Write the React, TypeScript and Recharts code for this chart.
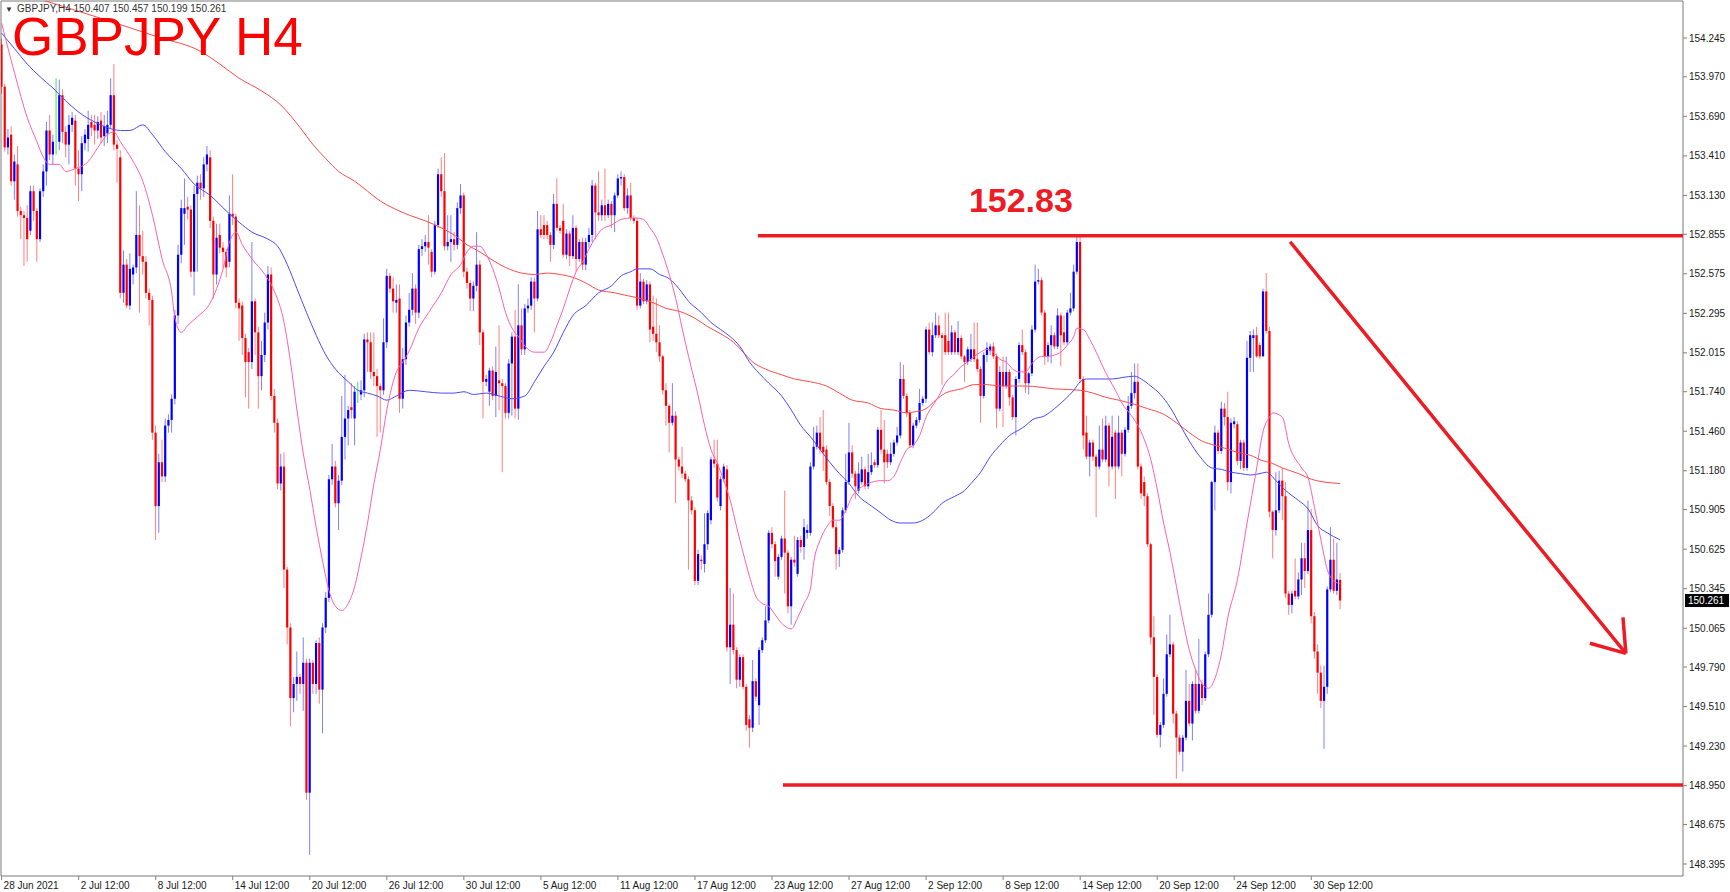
import React from 'react';
import {
  Bar,
  ComposedChart,
  Line,
  ReferenceArea,
  ReferenceLine,
  XAxis,
  YAxis,
} from 'recharts';

// candles as [open, high, low, close], H4 bars from 28 Jun 12:00
const julyBars: number[][] = [
  [154.20,154.24,153.85,153.90],[153.90,153.92,153.44,153.47],[153.47,153.60,153.42,153.54],[153.56,153.62,153.20,153.23],
  [153.23,153.42,153.10,153.37],[153.35,153.48,152.98,153.02],[153.02,153.05,152.82,152.99],[152.99,153.02,152.63,152.97],
  [152.97,153.06,152.66,152.82],[152.88,153.20,152.85,153.16],[153.16,153.20,152.95,153.02],[153.02,153.04,152.66,152.82],
  [152.82,153.18,152.80,153.16],[153.16,153.35,153.12,153.30],[153.30,153.65,153.20,153.59],[153.59,153.70,153.38,153.42],
  [153.42,153.56,153.35,153.51],[153.51,153.96,153.42,153.51],[153.51,153.95,153.45,153.84],[153.84,153.88,153.50,153.58],
  [153.58,153.62,153.40,153.49],[153.49,153.70,153.35,153.63],[153.63,153.72,153.58,153.68],[153.66,153.70,153.20,153.32],
  [153.32,153.45,153.09,153.28],[153.28,153.55,153.16,153.50],[153.50,153.60,153.45,153.56],[153.53,153.73,153.44,153.63],
  [153.65,153.70,153.55,153.61],[153.63,153.70,153.49,153.59],[153.59,153.69,153.53,153.65],[153.66,153.72,153.50,153.54],
  [153.55,153.70,153.48,153.62],[153.57,153.73,153.50,153.63],[153.63,153.96,153.60,153.84],[153.84,154.06,153.45,153.49],
  [153.49,153.52,153.22,153.46],[153.40,153.45,152.40,152.44],[152.44,152.74,152.37,152.64],[152.64,152.68,152.33,152.35],
  [152.35,152.72,152.32,152.61],[152.57,152.64,152.50,152.62],[152.62,153.16,152.58,152.85],[152.85,153.06,152.30,152.70],
  [152.70,152.88,152.57,152.66],[152.66,152.70,152.40,152.44],[152.44,152.47,152.21,152.39],[152.39,152.42,151.40,151.45],
  [151.45,151.50,150.69,150.93],[150.93,151.30,150.74,151.24],[151.24,151.40,151.10,151.14],[151.14,151.55,151.10,151.50],
  [151.50,151.58,151.45,151.54],[151.54,151.72,151.45,151.69],[151.69,152.32,151.65,152.28],[152.28,152.78,152.22,152.71],
  [152.71,153.10,152.65,153.04],[153.00,153.25,152.78,153.04],[153.05,153.12,152.96,153.03],[153.03,153.06,152.55,152.59],
  [152.59,153.20,152.42,153.14],[153.14,153.27,152.59,153.22],[153.22,153.28,153.10,153.18],[153.18,153.40,153.12,153.35],
  [153.35,153.48,153.30,153.42],[153.40,153.45,152.90,152.95],[152.95,152.98,152.40,152.57],[152.57,152.93,152.50,152.83],
  [152.85,152.93,152.72,152.76],[152.76,152.80,152.62,152.73],[152.73,152.75,152.55,152.62],[152.66,153.13,152.62,153.00],
  [153.00,153.28,152.92,152.98],[152.98,153.00,152.33,152.37],[152.37,152.40,152.10,152.33],[152.35,152.38,152.00,152.12],
  [152.12,152.15,151.70,151.95],[152.02,152.05,151.62,151.95],[151.95,152.80,151.90,152.38],[152.38,152.40,152.00,152.16],
  [152.16,152.20,151.62,151.85],[151.85,152.10,151.75,152.00],[152.00,152.30,151.95,152.23],[152.23,152.63,152.18,152.57],
  [152.57,152.62,151.68,151.71],[151.71,151.76,151.45,151.52],[151.52,151.55,151.05,151.09],[151.09,151.30,151.04,151.21],
  [151.21,151.31,150.35,150.48],[150.48,150.50,149.95,150.07],[150.07,150.10,149.37,149.57],[149.57,149.72,149.47,149.67],
  [149.67,149.90,149.55,149.72],[149.72,149.74,149.60,149.67],[149.67,150.00,149.48,149.82],[149.82,149.85,148.85,148.90],
  [148.90,149.85,148.46,149.82],[149.82,149.84,149.60,149.67],[149.67,149.98,149.60,149.96],[149.96,150.00,149.53,149.63],
  [149.63,150.10,149.32,150.07],[150.07,150.32,150.03,150.28],[150.28,151.15,150.25,151.12],[151.12,151.37,151.08,151.21],
  [151.21,151.25,150.92,150.95],[150.95,151.15,150.76,151.11],[151.11,151.71,151.08,151.42],[151.42,151.86,151.26,151.55],
  [151.55,151.64,151.36,151.61],[151.63,151.80,151.55,151.61],[151.55,151.78,151.36,151.74],[151.72,151.81,151.66,151.72],
  [151.72,151.82,151.68,151.75],[151.75,152.15,151.70,152.11],[152.11,152.16,151.88,152.09],[152.09,152.16,151.83,151.88],
  [151.88,152.16,151.78,151.85],[151.85,151.90,151.42,151.78],[151.78,151.80,151.45,151.75],[151.75,152.26,151.72,152.09],
  [152.09,152.61,152.05,152.56],[152.56,152.58,152.44,152.47],[152.47,152.55,152.30,152.38],[152.37,152.50,152.30,152.39],
  [152.40,152.50,151.59,151.69],[151.69,152.05,151.62,151.97],[151.97,152.28,151.93,152.23],[152.23,152.44,152.20,152.32],
  [152.32,152.58,152.28,152.47],[152.47,152.50,152.22,152.30],[152.30,152.78,152.26,152.75],[152.75,152.82,152.70,152.77],
  [152.77,152.85,152.73,152.80],[152.80,152.99,152.64,152.76],[152.73,152.75,152.55,152.59],[152.59,152.95,152.57,152.92],
  [152.92,153.32,152.90,153.28],[153.28,153.40,153.12,153.16],[153.16,153.43,152.74,152.77],[152.77,152.99,152.74,152.80],
  [152.80,152.99,152.66,152.82],[152.82,152.87,152.74,152.78],[152.78,153.08,152.75,153.04],[153.04,153.21,153.00,153.13],
  [153.13,153.15,152.55,152.59],[152.59,152.62,152.47,152.51],[152.51,152.53,152.31,152.40],
];

const augustBars: number[][] = [
  [152.40,152.52,152.31,152.49],[152.49,152.87,152.45,152.64],[152.64,152.67,152.07,152.16],[152.16,152.18,151.55,151.81],
  [151.81,151.86,151.78,151.83],[151.74,151.91,151.64,151.89],[151.89,151.92,151.68,151.71],[151.71,152.06,151.56,151.88],
  [151.82,152.21,151.61,151.80],[151.80,151.83,151.17,151.78],[151.78,151.80,151.55,151.59],[151.59,151.97,151.55,151.94],
  [151.94,152.16,151.57,152.13],[152.13,152.32,151.55,151.62],[151.62,152.50,151.54,152.21],[152.21,152.33,152.00,152.04],
  [152.04,152.36,152.00,152.33],[152.33,152.40,152.30,152.35],[152.35,152.55,152.32,152.52],[152.52,152.55,152.16,152.40],
  [152.40,153.02,152.38,152.89],[152.89,152.99,152.83,152.85],[152.92,152.99,152.82,152.85],[152.92,152.95,152.82,152.85],
  [152.85,152.87,152.66,152.78],[152.78,153.14,152.75,153.07],[153.07,153.25,152.88,152.90],[152.90,152.92,152.86,152.88],
  [152.95,153.07,152.69,152.71],[152.71,152.89,152.68,152.86],[152.86,152.88,152.63,152.70],[152.70,152.99,152.68,152.90],
  [152.90,152.92,152.59,152.68],[152.68,152.82,152.66,152.80],[152.80,152.83,152.60,152.64],[152.64,152.83,152.60,152.80],
  [152.80,152.90,152.76,152.85],[152.85,153.24,152.80,153.20],[153.20,153.22,152.82,153.01],[153.01,153.30,152.95,152.99],
  [152.99,153.10,152.95,153.06],[153.06,153.32,152.95,152.99],[152.99,153.10,152.97,153.07],[153.07,153.09,152.90,152.99],
  [152.99,153.15,152.87,153.13],[153.13,153.28,153.11,153.25],[153.25,153.30,153.20,153.26],[153.26,153.28,153.02,153.04],
  [153.04,153.18,153.00,153.13],[153.13,153.22,152.95,152.97],[152.97,152.99,152.93,152.95],[152.95,152.97,152.32,152.35],
  [152.35,152.58,152.33,152.52],[152.52,152.54,152.36,152.38],[152.38,152.53,152.36,152.50],[152.50,152.52,152.09,152.18],
  [152.20,152.42,152.10,152.15],[152.15,152.40,152.02,152.09],[152.09,152.21,151.95,151.99],[151.99,152.00,151.72,151.75],
  [151.75,151.80,151.50,151.64],[151.64,151.65,151.31,151.52],[151.52,151.80,151.50,151.57],[151.57,151.60,150.95,151.26],
  [151.26,151.28,151.18,151.21],[151.21,151.35,151.13,151.16],[151.16,151.18,151.10,151.12],[151.12,151.14,150.48,150.97],
  [150.97,151.00,150.87,150.90],[150.90,150.92,150.37,150.40],[150.40,150.62,150.37,150.59],[150.55,150.58,150.48,150.54],
  [150.52,150.88,150.46,150.66],[150.66,150.90,150.62,150.88],[150.83,151.28,150.80,151.26],[151.26,151.40,151.20,151.23],
  [151.23,151.40,150.96,150.99],[150.93,151.14,150.90,151.12],[151.12,151.23,151.10,151.21],[151.19,151.22,149.90,149.93],
  [149.93,150.35,149.67,150.09],[150.09,150.31,149.88,149.91],[149.91,149.93,149.64,149.70],[149.70,149.88,149.65,149.86],
  [149.86,149.88,149.63,149.65],[149.65,149.67,149.34,149.38],[149.42,149.45,149.22,149.36],[149.36,149.84,149.33,149.69],
  [149.69,149.71,149.55,149.58],[149.52,149.93,149.38,149.91],[149.91,150.00,149.89,149.98],[149.98,150.22,149.96,150.12],
  [150.12,150.76,150.10,150.74],[150.74,150.78,150.63,150.66],[150.66,150.68,150.43,150.54],[150.43,150.59,150.41,150.57],
  [150.57,150.72,150.55,150.70],[150.70,151.04,150.31,150.60],[150.60,150.62,150.17,150.22],[150.22,150.57,150.09,150.55],
  [150.55,150.72,150.50,150.53],[150.45,150.71,150.43,150.69],[150.69,150.72,150.60,150.64],[150.64,150.84,150.55,150.78],
  [150.74,150.80,150.70,150.76],[150.74,151.24,150.72,151.21],[151.21,151.49,151.19,151.35],[151.35,151.50,151.33,151.45],
  [151.45,151.56,151.30,151.33],[151.35,151.61,151.18,151.31],[151.33,151.36,151.08,151.10],[151.10,151.12,150.86,150.93],
  [150.93,150.95,150.77,150.78],[150.78,150.82,150.48,150.59],[150.59,150.64,150.50,150.62],[150.62,150.92,150.60,150.90],
  [150.90,151.30,150.88,151.10],[151.10,151.52,151.08,151.31],[151.31,151.36,151.13,151.16],[151.16,151.18,150.98,151.07],
  [151.04,151.24,151.02,151.16],[151.10,151.28,151.08,151.19],[151.19,151.21,151.05,151.07],[151.07,151.30,151.05,151.17],
  [151.17,151.31,151.15,151.22],[151.24,151.26,151.20,151.22],[151.22,151.49,151.20,151.47],[151.47,151.61,151.30,151.33],
  [151.33,151.54,151.09,151.24],[151.30,151.33,151.20,151.24],[151.24,151.38,151.22,151.30],[151.30,151.40,151.28,151.38],
];

const septemberBars: number[][] = [
  [151.38,151.49,151.36,151.43],[151.43,151.95,151.41,151.83],[151.83,151.93,151.69,151.71],[151.71,151.73,151.56,151.59],
  [151.59,151.61,151.34,151.36],[151.36,151.52,151.34,151.50],[151.50,151.56,151.48,151.54],[151.54,151.76,151.52,151.66],
  [151.66,151.71,151.64,151.69],[151.69,152.20,151.66,152.18],[152.18,152.23,152.00,152.02],[152.02,152.23,151.99,152.14],
  [152.14,152.30,152.12,152.21],[152.21,152.28,152.12,152.14],[152.14,152.16,151.79,152.12],[152.14,152.30,152.00,152.02],
  [152.10,152.30,152.00,152.02],[152.02,152.21,152.00,152.16],[152.16,152.18,152.00,152.02],[152.02,152.24,152.00,152.12],
  [152.12,152.14,151.97,151.99],[151.99,152.00,151.81,151.95],[151.95,152.06,151.93,152.04],[151.97,152.15,151.95,152.04],
  [152.04,152.23,151.95,151.97],[151.97,152.23,151.88,151.90],[151.90,151.92,151.52,151.71],[151.71,152.02,151.69,152.00],
  [152.00,152.09,151.95,152.05],[152.03,152.08,152.00,152.06],[152.06,152.09,151.97,151.99],[151.99,152.01,151.48,151.62],
  [151.62,151.92,151.60,151.88],[151.88,151.99,151.49,151.78],[151.78,151.99,151.76,151.88],[151.88,151.90,151.64,151.70],
  [151.70,151.72,151.54,151.56],[151.56,151.85,151.43,151.83],[151.83,152.09,151.80,152.07],[152.07,152.18,152.00,152.02],
  [152.02,152.04,151.73,151.80],[151.80,151.88,151.72,151.87],[151.87,152.21,151.85,152.18],[152.18,152.64,152.16,152.52],
  [152.52,152.61,152.50,152.53],[152.53,152.55,152.28,152.30],[152.30,152.32,151.93,151.99],[151.99,152.09,151.95,152.07],
  [152.07,152.21,151.94,152.14],[152.14,152.16,152.04,152.06],[152.06,152.33,152.04,152.28],[152.28,152.30,151.92,152.14],
  [152.16,152.28,152.07,152.09],[152.09,152.32,152.07,152.30],[152.30,152.44,152.28,152.33],[152.33,152.64,152.31,152.59],
  [152.59,152.85,152.57,152.80],[152.80,152.85,151.80,151.83],[151.83,151.85,151.33,151.43],[151.45,151.57,151.26,151.28],
  [151.28,151.40,151.14,151.38],[151.38,151.40,151.25,151.28],[151.28,151.30,150.85,151.21],[151.21,151.50,151.19,151.33],
  [151.33,151.55,151.24,151.26],[151.26,151.57,151.24,151.50],[151.50,151.52,151.07,151.21],[151.21,151.57,151.19,151.42],
  [151.45,151.47,150.98,151.21],[151.21,151.57,151.19,151.45],[151.45,151.47,151.14,151.30],[151.30,151.49,151.28,151.47],
  [151.47,151.71,151.45,151.64],[151.64,151.88,151.62,151.73],[151.73,151.94,151.69,151.81],[151.81,151.94,151.19,151.21],
  [151.21,151.23,150.98,151.02],[151.10,151.14,150.93,151.00],[151.00,151.02,150.64,150.66],[150.66,150.67,149.95,150.00],
  [150.00,150.15,149.45,149.72],[149.72,149.74,149.29,149.31],[149.31,149.40,149.22,149.38],[149.38,149.71,149.36,149.60],
  [149.60,150.02,149.58,149.88],[149.88,150.16,149.86,149.95],[149.95,149.97,149.39,149.46],[149.46,149.48,149.00,149.29],
  [149.29,149.31,149.17,149.19],[149.19,149.31,149.05,149.29],[149.29,149.77,149.27,149.55],[149.55,149.67,149.37,149.39],
  [149.39,149.69,149.27,149.67],[149.67,149.77,149.46,149.48],[149.48,149.99,149.46,149.67],[149.67,149.70,149.52,149.57],
  [149.57,149.90,149.55,149.88],[149.88,150.31,149.86,150.16],[150.16,151.11,150.14,151.10],[151.10,151.50,150.90,151.45],
  [151.45,151.47,151.30,151.32],[151.32,151.67,151.30,151.62],[151.62,151.66,151.50,151.56],[151.56,151.74,151.04,151.10],
  [151.10,151.55,151.02,151.52],[151.51,151.56,151.48,151.53],[151.51,151.53,151.22,151.25],[151.25,151.40,151.19,151.38],
  [151.38,151.40,151.18,151.20],[151.20,152.10,151.18,151.98],[151.98,152.17,151.88,152.14],[152.12,152.18,151.88,152.14],
  [152.14,152.20,151.98,151.99],[152.07,152.09,151.97,151.99],[151.99,152.47,151.99,152.45],[152.45,152.58,152.15,152.17],
  [152.17,152.20,150.85,150.89],[150.89,150.90,150.56,150.76],[150.76,151.17,150.72,150.90],[150.90,151.18,150.88,151.11],
  [151.11,151.20,150.83,151.00],[151.00,151.10,150.28,150.31],[150.31,150.33,150.16,150.23],[150.23,150.33,150.17,150.31],
  [150.33,150.56,150.27,150.29],[150.29,150.46,150.27,150.41],[150.41,150.67,150.30,150.56],[150.56,150.67,150.35,150.47],
  [150.47,150.97,150.45,150.76],[150.76,150.91,150.10,150.15],[150.15,150.18,149.85,149.90],[149.90,149.95,149.60,149.75],
  [149.75,149.80,149.50,149.55],[149.55,149.80,149.21,149.65],[149.65,150.36,149.60,150.34],[150.34,150.78,150.32,150.55],
  [150.55,150.70,150.31,150.33],[150.33,150.67,150.30,150.41],[150.407,150.457,150.199,150.261],
];

// moving averages as [bar index, price]
const pinkMa: number[][] = [
  [0,154.35],[4,154.00],[8,153.68],[11,153.51],[13,153.40],[15,153.35],[18,153.35],[20,153.30],[23,153.32],[27,153.37],
  [30,153.47],[33,153.56],[35,153.58],[37,153.51],[41,153.37],[44,153.23],[47,152.99],[50,152.68],[53,152.44],[54,152.26],
  [56,152.16],[58,152.21],[61,152.27],[65,152.37],[67,152.47],[69,152.61],[71,152.80],[73,152.87],[75,152.78],[78,152.68],
  [82,152.57],[85,152.45],[88,152.23],[90,151.95],[92,151.61],[94,151.30],[96,151.05],[98,150.78],[100,150.54],[102,150.33],
  [104,150.22],[106,150.19],[108,150.24],[110,150.36],[112,150.57],[114,150.81],[116,151.09],[118,151.33],[120,151.61],[123,151.88],
  [125,151.95],[127,152.03],[130,152.19],[133,152.30],[137,152.44],[140,152.57],[143,152.64],[145,152.73],[147,152.77],[149,152.77],
  [151,152.71],[153,152.61],[155,152.47],[157,152.30],[159,152.19],[161,152.13],[164,152.04],[166,152.02],[169,152.02],[171,152.09],
  [173,152.21],[175,152.33],[177,152.47],[179,152.59],[181,152.66],[183,152.75],[185,152.83],[187,152.89],[190,152.92],[193,152.96],
  [196,152.97],[198,152.97],[200,152.96],[202,152.90],[204,152.83],[206,152.71],[208,152.57],[210,152.40],[212,152.19],[214,151.99],
  [217,151.71],[219,151.50],[221,151.33],[223,151.23],[225,151.11],[227,150.97],[229,150.78],[231,150.60],[233,150.43],[235,150.29],
  [237,150.24],[239,150.22],[241,150.16],[243,150.10],[246,150.06],[248,150.14],[250,150.24],[252,150.35],[253,150.53],[255,150.69],
  [257,150.78],[259,150.83],[261,150.83],[263,150.90],[265,151.00],[267,151.05],[270,151.09],[274,151.11],[276,151.11],[278,151.14],
  [280,151.24],[282,151.33],[284,151.36],[286,151.43],[288,151.56],[290,151.64],[292,151.71],[294,151.80],[297,151.87],[299,151.92],
  [301,151.95],[303,151.99],[305,152.02],[307,152.04],[309,152.02],[311,151.97],[313,151.95],[315,151.90],[317,151.88],[319,151.88],
  [321,151.94],[324,151.99],[326,151.99],[328,152.00],[330,152.02],[332,152.07],[334,152.13],[335,152.19],[337,152.18],[339,152.11],
  [341,152.02],[343,151.92],[345,151.83],[347,151.75],[349,151.66],[352,151.57],[354,151.50],[356,151.40],[358,151.26],[360,151.05],
  [362,150.81],[364,150.60],[366,150.36],[368,150.12],[370,149.91],[372,149.77],[374,149.67],[376,149.64],[378,149.71],[380,149.88],
  [382,150.14],[385,150.41],[388,150.81],[391,151.20],[393,151.46],[395,151.56],[396,151.59],[399,151.56],[401,151.37],[405,151.20],
  [407,151.13],[409,150.92],[411,150.69],[413,150.48],[415,150.40],[417,150.38],
];

const blueMa: number[][] = [
  [0,154.28],[4,154.17],[8,154.06],[12,153.97],[16,153.89],[20,153.80],[24,153.72],[29,153.65],[33,153.61],[37,153.59],
  [40,153.59],[44,153.63],[47,153.56],[51,153.44],[56,153.32],[60,153.21],[65,153.13],[70,153.02],[74,152.94],[78,152.87],
  [83,152.82],[86,152.77],[89,152.64],[92,152.47],[95,152.30],[98,152.14],[101,152.00],[104,151.90],[108,151.81],[111,151.75],
  [114,151.73],[117,151.71],[120,151.68],[123,151.71],[127,151.75],[132,151.74],[137,151.73],[141,151.73],[144,151.74],[147,151.72],
  [151,151.73],[155,151.71],[159,151.69],[163,151.71],[166,151.81],[169,151.92],[172,152.02],[175,152.16],[178,152.28],[182,152.35],
  [186,152.44],[190,152.49],[193,152.56],[196,152.59],[198,152.61],[202,152.61],[205,152.57],[208,152.54],[211,152.47],[214,152.38],
  [218,152.30],[221,152.23],[224,152.18],[227,152.13],[230,152.06],[233,151.95],[236,151.87],[239,151.80],[243,151.71],[246,151.61],
  [249,151.50],[252,151.42],[255,151.33],[258,151.24],[261,151.16],[264,151.09],[267,151.00],[271,150.93],[274,150.88],[277,150.83],
  [280,150.81],[284,150.81],[287,150.83],[290,150.88],[293,150.95],[297,151.00],[300,151.04],[302,151.09],[305,151.17],[308,151.28],
  [311,151.36],[314,151.43],[317,151.47],[319,151.50],[321,151.54],[325,151.57],[328,151.62],[331,151.68],[334,151.75],[336,151.81],
  [338,151.83],[342,151.83],[346,151.83],[349,151.84],[353,151.85],[355,151.83],[358,151.78],[361,151.72],[364,151.63],[367,151.51],
  [370,151.39],[373,151.29],[377,151.20],[380,151.19],[383,151.17],[386,151.16],[389,151.15],[392,151.16],[394,151.17],[397,151.11],
  [400,151.04],[404,150.97],[407,150.91],[410,150.79],[413,150.74],[417,150.69],
];

const redMa: number[][] = [
  [0,154.60],[19,154.47],[49,154.25],[62,154.15],[68,154.06],[74,153.96],[81,153.87],[87,153.77],[93,153.61],[97,153.49],
  [101,153.39],[105,153.30],[110,153.23],[114,153.16],[118,153.09],[122,153.04],[127,152.99],[132,152.95],[137,152.90],[141,152.85],
  [145,152.78],[149,152.73],[153,152.67],[157,152.62],[162,152.58],[166,152.57],[170,152.58],[174,152.57],[178,152.55],[182,152.51],
  [186,152.46],[191,152.44],[195,152.42],[199,152.40],[203,152.37],[207,152.33],[211,152.31],[216,152.26],[220,152.20],[224,152.15],
  [228,152.09],[231,152.02],[234,151.95],[238,151.90],[243,151.86],[247,151.83],[252,151.81],[257,151.78],[261,151.73],[265,151.68],
  [270,151.66],[274,151.62],[278,151.61],[282,151.59],[285,151.60],[288,151.62],[291,151.68],[294,151.73],[299,151.76],[303,151.79],
  [307,151.79],[311,151.78],[319,151.78],[328,151.76],[336,151.75],[340,151.73],[344,151.70],[348,151.68],[353,151.65],[357,151.62],
  [362,151.58],[366,151.52],[370,151.45],[374,151.39],[378,151.36],[381,151.34],[385,151.31],[389,151.29],[393,151.25],[395,151.24],
  [399,151.20],[404,151.16],[408,151.12],[412,151.10],[417,151.09],
];

const timeTicks = [0, 24, 48, 72, 96, 120, 144, 168, 192, 216, 240, 264, 288, 312, 336, 360, 384, 408];
const timeLabels = [
  '28 Jun 2021', '2 Jul 12:00', '8 Jul 12:00', '14 Jul 12:00', '20 Jul 12:00', '26 Jul 12:00',
  '30 Jul 12:00', '5 Aug 12:00', '11 Aug 12:00', '17 Aug 12:00', '23 Aug 12:00', '27 Aug 12:00',
  '2 Sep 12:00', '8 Sep 12:00', '14 Sep 12:00', '20 Sep 12:00', '24 Sep 12:00', '30 Sep 12:00',
];
const priceTicks = [
  154.245, 153.97, 153.69, 153.41, 153.13, 152.855, 152.575, 152.295, 152.015, 151.74, 151.46,
  151.18, 150.905, 150.625, 150.345, 150.065, 149.79, 149.51, 149.23, 148.95, 148.675, 148.395,
];

const RESISTANCE = 152.844;
const SUPPORT = 148.955;
const LAST_PRICE = 150.261;

const W = 1730;
const H = 892;
const X_DOMAIN: [number, number] = [-0.19, 523.8];
const Y_DOMAIN: [number, number] = [148.31, 154.507];
const UP = '#0000ff';
const DOWN = '#ff0000';
const DOJI = '#22dd22';
const PAINT_RED = '#ed1c24';
const FONT = '"Liberation Sans", Arial, sans-serif';

const bars = [...julyBars, ...augustBars, ...septemberBars];
const rows: any[] = bars.map(([o, h, l, c], i) => ({
  i,
  o,
  h,
  l,
  c,
  range: [Math.min(l, o, c), Math.max(h, o, c)],
  fast: null,
  mid: null,
  slow: null,
}));
const putMa = (pts: number[][], key: string) => {
  for (const [i, v] of pts) if (rows[i]) rows[i][key] = v;
};
putMa(pinkMa, 'fast');
putMa(blueMa, 'mid');
putMa(redMa, 'slow');

function Candle(props: any) {
  const { x, y, width, height, payload } = props;
  if (!payload || x == null || y == null) return null;
  const [lo, hi] = payload.range;
  const top = Math.min(y, y + height);
  const bottom = Math.max(y, y + height);
  const k = hi > lo ? (bottom - top) / (hi - lo) : 0;
  const py = (p: number) => top + (hi - p) * k;
  const cx = x + width / 2;
  const { o, c } = payload;
  const color = c > o ? UP : c < o ? DOWN : DOJI;
  const bTop = py(Math.max(o, c));
  const bBot = py(Math.min(o, c));
  return (
    <g>
      <line x1={cx} x2={cx} y1={top} y2={bottom} stroke={color} strokeOpacity={c === o ? 0.85 : 0.5} strokeWidth={1} />
      {c !== o ? (
        <rect x={cx - 1.1} y={bTop} width={2.2} height={Math.max(1, bBot - bTop)} fill={color} />
      ) : null}
    </g>
  );
}

function TimeTick(props: any) {
  const { x, y, payload } = props;
  const k = timeTicks.indexOf(payload.value);
  if (k < 0) return null;
  return (
    <text x={x + 2} y={y + 7} fontSize={10} fill="#1a1a1a" fontFamily={FONT} textAnchor="start">
      {timeLabels[k]}
    </text>
  );
}

const priceTag = (p: any) => {
  const vb = p.viewBox || {};
  const x = (vb.x ?? 0) + (vb.width ?? 0) + 2;
  const y = vb.y ?? 0;
  return (
    <g>
      <rect x={x} y={y - 6.5} width={44} height={13} fill="#000" />
      <text x={x + 3} y={y + 3.6} fontSize={10} fill="#fff" fontFamily={FONT}>
        {LAST_PRICE.toFixed(3)}
      </text>
    </g>
  );
};

const levelLabel = (p: any) => {
  const vb = p.viewBox || {};
  const x = vb.x ?? vb.x1 ?? 0;
  const y = vb.y ?? vb.y1 ?? 0;
  return (
    <text x={x + 211} y={y - 24} fontSize={34} fontWeight="bold" fill={PAINT_RED} fontFamily={FONT}>
      152.83
    </text>
  );
};

export default function App(): React.JSX.Element {
  return (
    <div style={{ position: 'absolute', left: 0, top: 0, width: W, height: H, background: '#fff' }}>
      <ComposedChart
        width={W}
        height={H}
        data={rows}
        margin={{ top: 1, right: 0, bottom: 0, left: 1 }}
        style={{ fontFamily: FONT }}
      >
        <XAxis
          dataKey="i"
          type="number"
          domain={X_DOMAIN}
          allowDataOverflow
          ticks={timeTicks}
          interval={0}
          height={16}
          axisLine={false}
          tickLine={{ stroke: '#808080' }}
          tickSize={4}
          tick={<TimeTick />}
        />
        <YAxis
          orientation="right"
          type="number"
          domain={Y_DOMAIN}
          allowDataOverflow
          ticks={priceTicks}
          interval={0}
          width={47}
          axisLine={false}
          tickLine={{ stroke: '#808080' }}
          tickSize={4}
          tickMargin={2}
          tick={{ fontSize: 10, fill: '#1a1a1a', fontFamily: FONT }}
          tickFormatter={(v: number) => v.toFixed(3)}
        />
        <ReferenceArea
          x1={X_DOMAIN[0]}
          x2={X_DOMAIN[1]}
          y1={Y_DOMAIN[0]}
          y2={Y_DOMAIN[1]}
          fill="none"
          stroke="#7a7a7a"
          strokeWidth={1}
        />
        <Bar dataKey="range" barSize={3} shape={<Candle />} isAnimationActive={false} />
        <Line dataKey="slow" type="monotone" stroke="#ff4a4a" strokeWidth={1} dot={false} activeDot={false} connectNulls isAnimationActive={false} />
        <Line dataKey="mid" type="monotone" stroke="#4a4aff" strokeWidth={1} dot={false} activeDot={false} connectNulls isAnimationActive={false} />
        <Line dataKey="fast" type="monotone" stroke="#ff5fae" strokeWidth={1} dot={false} activeDot={false} connectNulls isAnimationActive={false} />
        <ReferenceLine
          segment={[{ x: 235.6, y: RESISTANCE }, { x: X_DOMAIN[1], y: RESISTANCE }]}
          stroke={PAINT_RED}
          strokeWidth={3.5}
          label={levelLabel}
        />
        <ReferenceLine
          segment={[{ x: 243.4, y: SUPPORT }, { x: X_DOMAIN[1], y: SUPPORT }]}
          stroke={PAINT_RED}
          strokeWidth={3.5}
        />
        <ReferenceLine segment={[{ x: 401.4, y: 152.802 }, { x: 506.0, y: 149.887 }]} stroke={PAINT_RED} strokeWidth={3.5} />
        <ReferenceLine segment={[{ x: 505.1, y: 150.141 }, { x: 506.0, y: 149.887 }]} stroke={PAINT_RED} strokeWidth={3.5} />
        <ReferenceLine segment={[{ x: 494.8, y: 149.958 }, { x: 506.0, y: 149.887 }]} stroke={PAINT_RED} strokeWidth={3.5} />
        <ReferenceLine y={LAST_PRICE} stroke="#000" strokeOpacity={0} label={priceTag} />
      </ComposedChart>
      <svg
        width={W}
        height={16}
        style={{ position: 'absolute', left: 0, top: 0, pointerEvents: 'none' }}
      >
        <text x={5} y={12} fontSize={8} fill="#333" fontFamily={FONT}>▼</text>
        <text x={17} y={12} fontSize={10} fill="#333" fontFamily={FONT}>
          GBPJPY,H4 150.407 150.457 150.199 150.261
        </text>
      </svg>
      <div
        style={{
          position: 'absolute',
          left: 12,
          top: 17,
          height: 40,
          fontFamily: FONT,
          fontSize: 53,
          lineHeight: '40px',
          color: '#ff0000',
          whiteSpace: 'nowrap',
          pointerEvents: 'none',
        }}
      >
        GBPJPY H4
      </div>
    </div>
  );
}
